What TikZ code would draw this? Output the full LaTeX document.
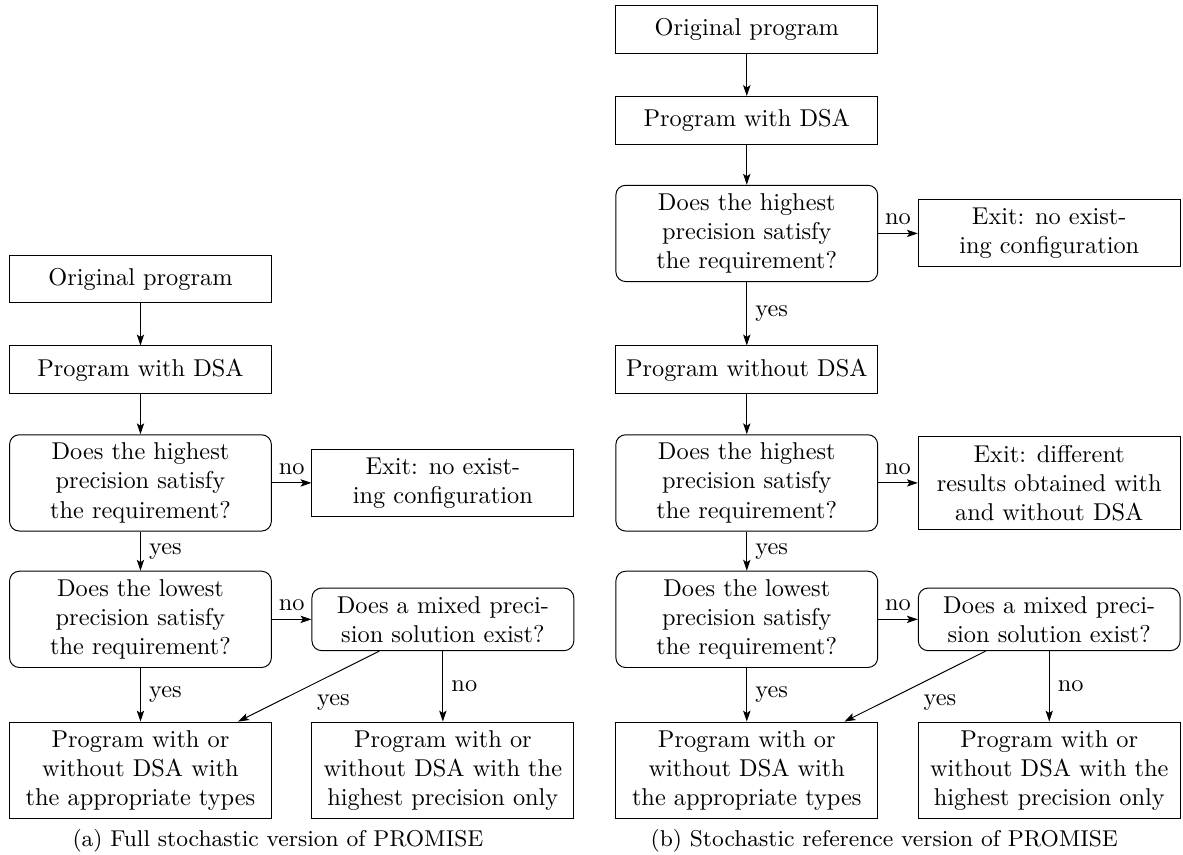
\documentclass[tikz,border=0pt]{standalone}
\usetikzlibrary{arrows.meta}
\tikzset{
	procbox/.style={draw, align=center, minimum width=3.78cm, minimum height=0.69cm},
	testbox/.style={procbox, rounded corners},
}

\begin{document}
\begin{tikzpicture}[>={Stealth[length=4.5pt, width=3pt, inset=1pt]}]
			%%%%% START %%%%%
			\useasboundingbox (0, 0) rectangle (17.08, -12.34);
			
			% (a) full stochastic version
			\node[procbox] (aorig) at (2.028, -4.027) {Original program};
			\node[procbox] (adsa) at (2.028, -5.34) {Program with DSA};
			\node[testbox] (ahigh) at (2.028, -6.972) {Does the highest\\precision satisfy\\the requirement?};
			\node[procbox] (aexit) at (6.394, -6.972) {Exit: no exist-\\ing configuration};
			\node[testbox] (alow) at (2.028, -8.942) {Does the lowest\\precision satisfy\\the requirement?};
			\node[testbox] (amix) at (6.394, -8.942) {Does a mixed preci-\\sion solution exist?};
			\node[procbox] (atypes) at (2.028, -11.122) {Program with or\\without DSA with\\the appropriate types};
			\node[procbox] (aonly) at (6.394, -11.122) {Program with or\\without DSA with the\\highest precision only};
			
			\draw[->] (aorig) -- (adsa);
			\draw[->] (adsa) -- (ahigh);
			\draw[->] (ahigh) -- node[above] (ano1) {no} (aexit);
			\draw[->] (ahigh) -- node[right] (ayes1) {yes} (alow);
			\draw[->] (alow) -- node[above] (ano2) {no} (amix);
			\draw[->] (alow) -- node[right] (ayes2) {yes} (atypes);
			\draw[->] (amix) -- node[below right] (ayes3) {yes} (atypes);
			\draw[->] (amix) -- node[right] (ano3) {no} (aonly);
			
			\node[font=\fontsize{9.4}{11}\selectfont] (capa) at (4.013, -12.14) {(a) Full stochastic version of PROMISE};
			
			% (b) stochastic reference version
			\node[procbox] (borig) at (10.782, -0.426) {Original program};
			\node[procbox] (bdsa) at (10.782, -1.739) {Program with DSA};
			\node[testbox] (bhigh) at (10.782, -3.370) {Does the highest\\precision satisfy\\the requirement?};
			\node[procbox] (bexit) at (15.149, -3.370) {Exit: no exist-\\ing configuration};
			\node[procbox] (bnodsa) at (10.782, -5.34) {Program without DSA};
			\node[testbox] (bhigh2) at (10.782, -6.972) {Does the highest\\precision satisfy\\the requirement?};
			\node[procbox] (bdiff) at (15.149, -6.972) {Exit: different\\results obtained with\\and without DSA};
			\node[testbox] (blow) at (10.782, -8.942) {Does the lowest\\precision satisfy\\the requirement?};
			\node[testbox] (bmix) at (15.149, -8.942) {Does a mixed preci-\\sion solution exist?};
			\node[procbox] (btypes) at (10.782, -11.122) {Program with or\\without DSA with\\the appropriate types};
			\node[procbox] (bonly) at (15.149, -11.122) {Program with or\\without DSA with the\\highest precision only};
			
			\draw[->] (borig) -- (bdsa);
			\draw[->] (bdsa) -- (bhigh);
			\draw[->] (bhigh) -- node[above] (bno1) {no} (bexit);
			\draw[->] (bhigh) -- node[right] (byes1) {yes} (bnodsa);
			\draw[->] (bnodsa) -- (bhigh2);
			\draw[->] (bhigh2) -- node[above] (bno2) {no} (bdiff);
			\draw[->] (bhigh2) -- node[right] (byes2) {yes} (blow);
			\draw[->] (blow) -- node[above] (bno3) {no} (bmix);
			\draw[->] (blow) -- node[right] (byes3) {yes} (btypes);
			\draw[->] (bmix) -- node[below right] (byes4) {yes} (btypes);
			\draw[->] (bmix) -- node[right] (bno4) {no} (bonly);
			
			\node[font=\fontsize{9.4}{11}\selectfont] (capb) at (12.767, -12.14) {(b) Stochastic reference version of PROMISE};
			%%%%% END %%%%%
\end{tikzpicture}
\end{document}
